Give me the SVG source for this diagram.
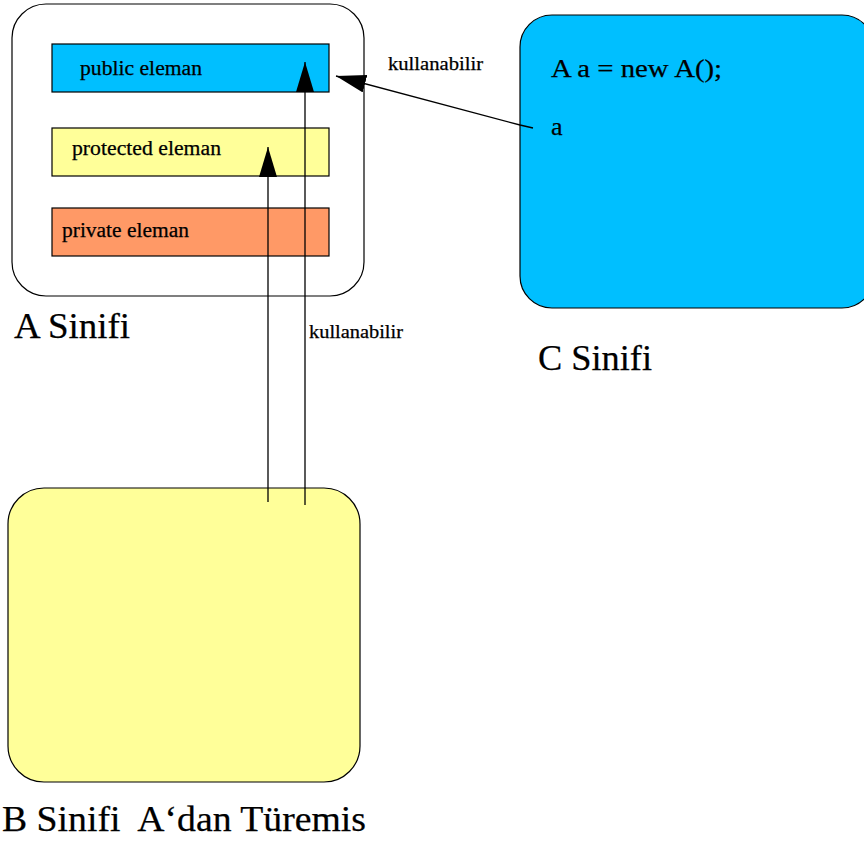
<svg xmlns="http://www.w3.org/2000/svg" width="864" height="841" viewBox="0 0 864 841">
  <style>
    .box { stroke: #000; stroke-width: 1.2; }
    .t { font-family: "Liberation Serif", "Times New Roman", serif; fill: #000; stroke: #000; stroke-width: 0.25; }
    .member { font-size: 20px; }
    .title { font-size: 36px; }
    .label { font-size: 19px; }
    .code { font-size: 26px; }
    .edge { fill: none; stroke: #000; stroke-width: 1.3; marker-end: url(#head); }
  </style>
  <defs>
    <marker id="head" viewBox="0 0 30 18" refX="30" refY="9" markerWidth="30" markerHeight="18" markerUnits="userSpaceOnUse" orient="auto">
      <path d="M0,0 L30,9 L0,18 z" fill="#000"/>
    </marker>
  </defs>
  <rect width="864" height="841" fill="#fff"/>

  <!-- class A with its three members -->
  <g id="classA">
    <rect class="box" x="12" y="4" width="352" height="292" rx="34" ry="34" fill="#fff"/>
    <text class="t title" x="14" y="338" textLength="116" lengthAdjust="spacingAndGlyphs">A Sinifi</text>
  </g>
  <g id="publicMember">
    <rect class="box" x="52" y="44" width="277" height="48" fill="#00bfff"/>
    <text class="t member" x="80" y="75" textLength="122" lengthAdjust="spacingAndGlyphs">public eleman</text>
  </g>
  <g id="protectedMember">
    <rect class="box" x="52" y="128" width="277" height="48" fill="#ffff99"/>
    <text class="t member" x="72" y="155" textLength="149" lengthAdjust="spacingAndGlyphs">protected eleman</text>
  </g>
  <g id="privateMember">
    <rect class="box" x="52" y="208" width="277" height="48" fill="#ff9966"/>
    <text class="t member" x="62" y="237" textLength="127" lengthAdjust="spacingAndGlyphs">private eleman</text>
  </g>

  <!-- class C, which holds an instance of A -->
  <g id="classC">
    <rect class="box" x="520" y="15" width="354" height="293" rx="32" ry="32" fill="#00bfff"/>
    <text class="t code" x="551" y="77" textLength="171" lengthAdjust="spacingAndGlyphs">A a = new A();</text>
    <text class="t code" x="551" y="135">a</text>
    <text class="t title" x="538" y="370" textLength="114" lengthAdjust="spacingAndGlyphs">C Sinifi</text>
  </g>

  <!-- class B, derived from A -->
  <g id="classB">
    <rect class="box" x="8" y="488" width="352" height="294" rx="36" ry="36" fill="#ffff99"/>
    <text class="t title" x="2" y="831" xml:space="preserve" textLength="364" lengthAdjust="spacingAndGlyphs">B Sinifi  A‘dan Türemis</text>
  </g>

  <!-- access connectors -->
  <g id="connectors">
    <polyline class="edge" points="533,128 520,125 336,76"/>
    <line class="edge" x1="305" y1="505" x2="305" y2="62"/>
    <line class="edge" x1="268" y1="502" x2="268" y2="147"/>
    <text class="t label" x="388" y="70" textLength="95" lengthAdjust="spacingAndGlyphs">kullanabilir</text>
    <text class="t label" x="309" y="338" textLength="94" lengthAdjust="spacingAndGlyphs">kullanabilir</text>
  </g>
</svg>
